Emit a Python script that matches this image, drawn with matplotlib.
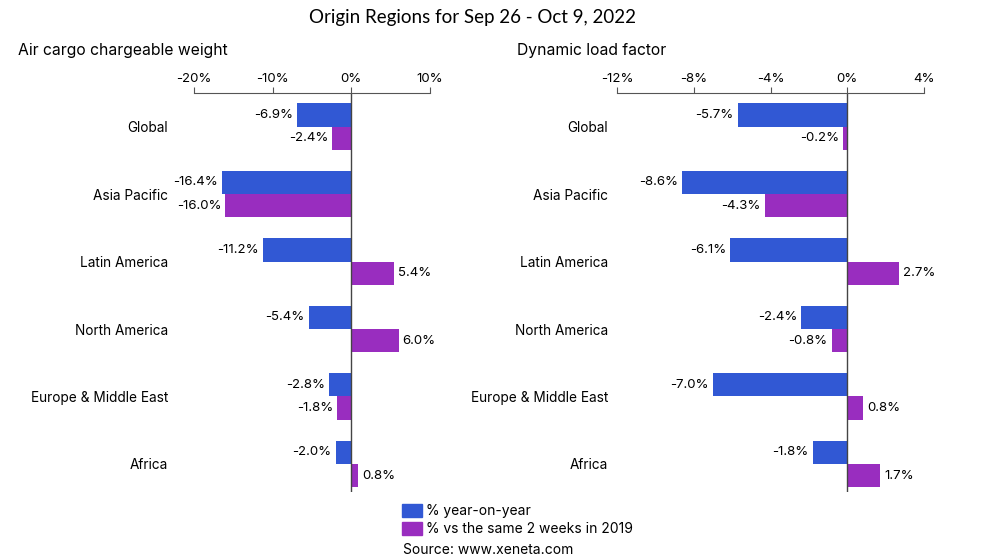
import numpy as np
import matplotlib
matplotlib.use('Agg')
from matplotlib import pyplot as plt
from matplotlib.patches import Patch

plt.rcParams['font.family'] = ['Inter', 'DejaVu Sans']

regions = ['Global', 'Asia Pacific', 'Latin America', 'North America',
           'Europe & Middle East', 'Africa']
weight_yoy = [-6.9, -16.4, -11.2, -5.4, -2.8, -2.0]
weight_2019 = [-2.4, -16.0, 5.4, 6.0, -1.8, 0.8]
load_yoy = [-5.7, -8.6, -6.1, -2.4, -7.0, -1.8]
load_2019 = [-0.2, -4.3, 2.7, -0.8, 0.8, 1.7]

blue = '#3158d4'
purple = '#992dbf'

fig = plt.figure(figsize=(9.96, 5.6), dpi=100)
ax1 = fig.add_axes([0.1948, 0.121, 0.2369, 0.713])
ax2 = fig.add_axes([0.6195, 0.121, 0.3082, 0.713])

y = np.arange(len(regions))
h = 0.345


def draw(ax, yoy, v2019, lim, ticks, label_pad):
    ax.barh(y - h / 2, yoy, height=h, color=blue)
    ax.barh(y + h / 2, v2019, height=h, color=purple)
    for yy, vals in [(y - h / 2, yoy), (y + h / 2, v2019)]:
        for yi, v in zip(yy, vals):
            ha = 'right' if v < 0 else 'left'
            off = -3 if v < 0 else 3
            ax.annotate('%.1f%%' % v, (v, yi), xytext=(off, 0),
                        textcoords='offset points', ha=ha, va='center',
                        fontsize=9.5)
    ax.set_xlim(*lim)
    ax.set_ylim(5.42, -0.5)
    ax.set_xticks(ticks)
    ax.set_xticklabels(['%d%%' % t for t in ticks])
    ax.xaxis.tick_top()
    ax.tick_params(axis='x', direction='out', length=4.5, color='#555555',
                   labelsize=9.5, pad=1)
    ax.set_yticks(y)
    ax.set_yticklabels(regions, fontsize=9.8)
    ax.tick_params(axis='y', length=0, pad=label_pad)
    for s in ['left', 'right', 'bottom']:
        ax.spines[s].set_visible(False)
    ax.spines['top'].set_color('#555555')
    ax.axvline(0, color='#444444', lw=1)


draw(ax1, weight_yoy, weight_2019, (-20, 10), [-20, -10, 0, 10], 18.7)
draw(ax2, load_yoy, load_2019, (-12, 4), [-12, -8, -4, 0, 4], 6.5)

fig.text(0.474, 0.968, 'Origin Regions for Sep 26 - Oct 9, 2022', ha='center',
         va='center', fontsize=13.5, family=['Lato', 'DejaVu Sans'])
fig.text(0.018, 0.91, 'Air cargo chargeable weight', ha='left', va='center',
         fontsize=11.3)
fig.text(0.519, 0.91, 'Dynamic load factor', ha='left', va='center',
         fontsize=11.3)

handles = [Patch(color=blue, label='% year-on-year'),
           Patch(color=purple, label='% vs the same 2 weeks in 2019')]
fig.legend(handles=handles, loc='upper left', bbox_to_anchor=(0.397, 0.113),
           frameon=False, fontsize=10, handlelength=1.4, handleheight=1.1,
           handletextpad=0.3, labelspacing=0.25, borderpad=0)
fig.text(0.405, 0.017, 'Source: www.xeneta.com', ha='left', va='center',
         fontsize=10)

fig.savefig('out.png', dpi=100)
